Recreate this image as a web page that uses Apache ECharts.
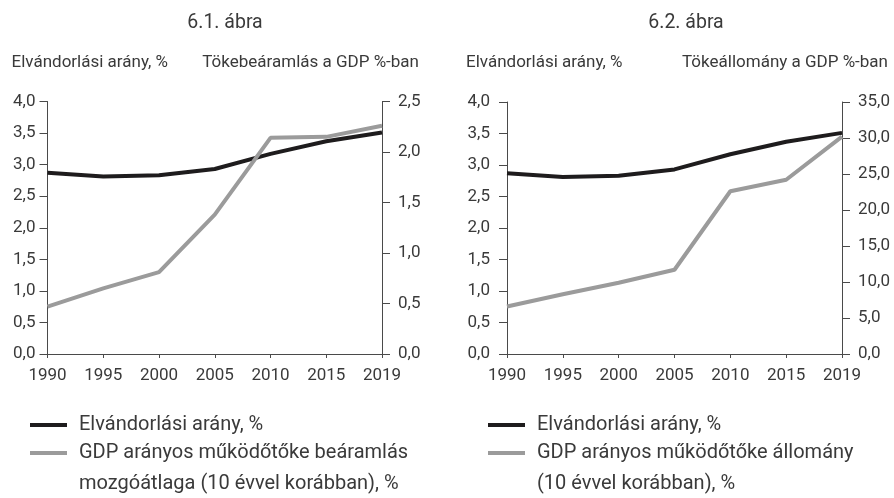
<!DOCTYPE html>
<html>
<head>
<meta charset="utf-8">
<script src="https://cdn.jsdelivr.net/npm/echarts@6/dist/echarts.min.js"></script>
<style>
  html, body { margin: 0; padding: 0; background: #fff; }
  #chart { width: 894px; height: 498px; }
</style>
</head>
<body>
<div id="chart"></div>
<script>
const years = ['1990', '1995', '2000', '2005', '2010', '2015', '2019'];
const emigration = [2.87, 2.81, 2.83, 2.93, 3.17, 3.37, 3.51];
const inflowAvg = [0.47, 0.65, 0.81, 1.38, 2.14, 2.15, 2.26];
const fdiStock = [6.6, 8.3, 9.9, 11.7, 22.6, 24.2, 30.2];

const FONT = 'Roboto, "DejaVu Sans Condensed", sans-serif';
const TXT = '#3a3a3a';
const AX = '#4a4a4a';
const BLACK = '#1e1c1d';
const GRAY = '#9b9b9b';

const comma = v => v.toFixed(1).replace('.', ',');

const yAxisBase = (grid, pos, max, interval, margin) => ({
  type: 'value',
  gridIndex: grid,
  position: pos,
  min: 0,
  max: max,
  interval: interval,
  splitLine: { show: false },
  axisLine: { show: true, lineStyle: { color: AX, width: 1 } },
  axisTick: { show: true, length: 8, lineStyle: { color: AX } },
  axisLabel: { margin: margin, color: TXT, fontSize: 17, fontFamily: FONT, formatter: comma }
});

const xAxisBase = grid => ({
  type: 'category',
  gridIndex: grid,
  data: years,
  boundaryGap: false,
  axisLine: { lineStyle: { color: AX, width: 1 } },
  axisTick: { show: true, length: 4, interval: 0, lineStyle: { color: AX } },
  axisLabel: { margin: 13, interval: 0, color: TXT, fontSize: 17, fontFamily: FONT }
});

const lineSeries = (name, data, x, y, color, z) => ({
  name: name,
  type: 'line',
  xAxisIndex: x,
  yAxisIndex: y,
  data: data,
  symbol: 'none',
  z: z,
  lineStyle: { color: color, width: 4 },
  itemStyle: { color: color },
  emphasis: { disabled: true }
});

// second legend entry gets a blank first line so that its first real line sits on the icon
const legendBase = (left, top, name, twoLine) => ({
  left: left,
  top: top,
  orient: 'vertical',
  padding: 0,
  icon: 'rect',
  itemWidth: 37,
  itemHeight: 4,
  itemGap: 12,
  selectedMode: false,
  data: [name],
  formatter: n => (twoLine ? ' \n' : '') + n,
  textStyle: { color: TXT, fontSize: 20, fontFamily: FONT, lineHeight: 31, padding: [0, 0, 0, 7] }
});

const txt = (x, y, text, align, size) => ({
  type: 'text',
  x: x,
  y: y,
  style: {
    text: text,
    fill: TXT,
    font: size + 'px ' + FONT,
    textAlign: align,
    textVerticalAlign: 'middle'
  }
});

const chart = echarts.init(document.getElementById('chart'));
chart.setOption({
  animation: false,
  textStyle: { fontFamily: FONT },
  grid: [
    { left: 47.5, right: 512, top: 101.5, bottom: 144 },
    { left: 507, right: 52, top: 102, bottom: 144 }
  ],
  xAxis: [xAxisBase(0), xAxisBase(1)],
  yAxis: [
    yAxisBase(0, 'left', 4, 0.5, 12),
    yAxisBase(0, 'right', 2.5, 0.5, 16),
    yAxisBase(1, 'left', 4, 0.5, 17),
    yAxisBase(1, 'right', 35, 5, 16)
  ],
  legend: [
    legendBase(30, 409.5, 'Elvándorlási arány, %', false),
    legendBase(30, 406.5, 'GDP arányos működőtőke beáramlás\nmozgóátlaga (10 évvel korábban), %', true),
    legendBase(488, 409.5, 'Elvándorlási arány, % ', false),
    legendBase(488, 406.5, 'GDP arányos működőtőke állomány\n(10 évvel korábban), %', true)
  ],
  series: [
    lineSeries('Elvándorlási arány, %', emigration, 0, 0, BLACK, 2),
    lineSeries('GDP arányos működőtőke beáramlás\nmozgóátlaga (10 évvel korábban), %', inflowAvg, 0, 1, GRAY, 3),
    lineSeries('Elvándorlási arány, % ', emigration, 1, 2, BLACK, 3),
    lineSeries('GDP arányos működőtőke állomány\n(10 évvel korábban), %', fdiStock, 1, 3, GRAY, 2)
  ],
  graphic: [
    txt(225, 23, '6.1. ábra', 'center', 19.5),
    txt(686, 23, '6.2. ábra', 'center', 19.5),
    txt(11.5, 63, 'Elvándorlási arány, %', 'left', 17),
    txt(419, 63, 'Tökebeáramlás a GDP %-ban', 'right', 17),
    txt(466, 63, 'Elvándorlási arány, %', 'left', 17),
    txt(888, 63, 'Tökeállomány a GDP %-ban', 'right', 17)
  ]
});
</script>
</body>
</html>
